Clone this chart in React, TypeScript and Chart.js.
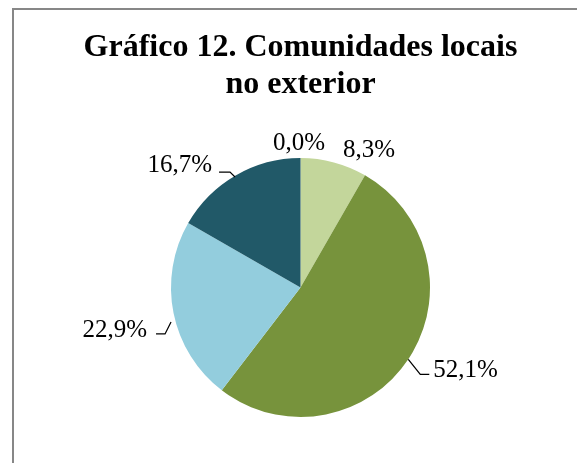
import React, { useEffect, useRef } from "react";
import { Chart, registerables } from "chart.js";

Chart.register(...registerables);

// ---- data ----
const TITLE_LINES = ["Gráfico 12. Comunidades locais", "no exterior"];
const CATEGORIES = ["Categoria 1", "Categoria 2", "Categoria 3", "Categoria 4", "Categoria 5"];
const VALUES = [0.0, 8.3, 52.1, 22.9, 16.7];
const COLORS = ["#4F81BD", "#C3D69B", "#77933C", "#93CDDD", "#215968"];

// label placement relative to each slice's outer mid-point (Excel "best fit" layout)
type Lay = { tx: number; ty: number; align: CanvasTextAlign; leader?: [number, number][] };
const LABEL_LAYOUT: Lay[] = [
  { tx: -1.5, ty: -8, align: "center" },
  { tx: 9, ty: -5.5, align: "left" },
  { tx: 25, ty: 18, align: "left", leader: [[0, 0], [12, 15], [21, 15]] },
  { tx: -26.5, ty: 24, align: "right", leader: [[-2.5, 9], [-8.5, 21], [-17.5, 21]] },
  { tx: -23.6, ty: -3.4, align: "right", leader: [[-0.6, 1.6], [-5.6, -3.4], [-16.6, -3.4]] },
];

const SERIF = "'Liberation Serif', 'Times New Roman', serif";
const LABEL_SIZE = 25;

const fmt = (v: number) => v.toFixed(1).replace(".", ",") + "%";

const labelPlugin = {
  id: "sliceLabels",
  afterDatasetsDraw(chart: any) {
    const ctx = chart.ctx as CanvasRenderingContext2D;
    const meta = chart.getDatasetMeta(0);
    ctx.save();
    ctx.font = `${LABEL_SIZE}px ${SERIF}`;
    ctx.fillStyle = "#000";
    ctx.strokeStyle = "#000";
    ctx.lineWidth = 1.25;
    meta.data.forEach((arc: any, i: number) => {
      const { x, y, startAngle, endAngle, outerRadius } = arc.getProps(
        ["x", "y", "startAngle", "endAngle", "outerRadius"],
        true
      );
      const mid = (startAngle + endAngle) / 2;
      const ax = x + Math.cos(mid) * outerRadius;
      const ay = y + Math.sin(mid) * outerRadius;
      const lay = LABEL_LAYOUT[i];
      if (lay.leader) {
        ctx.beginPath();
        lay.leader.forEach(([dx, dy], k) => {
          if (k === 0) ctx.moveTo(ax + dx, ay + dy);
          else ctx.lineTo(ax + dx, ay + dy);
        });
        ctx.stroke();
      }
      ctx.textAlign = lay.align;
      ctx.textBaseline = "alphabetic";
      ctx.fillText(fmt(VALUES[i]), ax + lay.tx, ay + lay.ty);
    });
    ctx.restore();
  },
};

export default function App() {
  const ref = useRef<HTMLCanvasElement | null>(null);

  useEffect(() => {
    if (!ref.current) return;
    const chart = new Chart(ref.current, {
      type: "pie",
      data: {
        labels: CATEGORIES,
        datasets: [
          {
            data: VALUES,
            backgroundColor: COLORS,
            borderWidth: 0,
            hoverBorderWidth: 0,
            offset: 0,
            hoverOffset: 0,
          } as any,
        ],
      },
      options: {
        responsive: false,
        animation: false,
        devicePixelRatio: 1,
        events: [],
        layout: { padding: { left: 24, right: 0, top: 0, bottom: 46 } },
        plugins: {
          legend: { display: false },
          tooltip: { enabled: false },
          title: {
            display: true,
            text: TITLE_LINES,
            color: "#000",
            font: { family: SERIF, size: 32, weight: "bold", lineHeight: 1.15 },
            padding: { top: 29.6, bottom: 54.8 },
          },
        },
      } as any,
      plugins: [labelPlugin],
    });
    return () => chart.destroy();
  }, []);

  return (
    <div
      style={{
        position: "fixed",
        left: 0,
        top: 0,
        width: 577,
        height: 463,
        overflow: "hidden",
        background: "#fff",
      }}
    >
      <div
        style={{
          position: "absolute",
          left: 12,
          top: 8,
          width: 700,
          height: 600,
          borderLeft: "2px solid #878787",
          borderTop: "2px solid #878787",
        }}
      />
      <canvas
        ref={ref}
        width={577}
        height={463}
        style={{ position: "absolute", left: 0, top: 0, display: "block" }}
      />
    </div>
  );
}
